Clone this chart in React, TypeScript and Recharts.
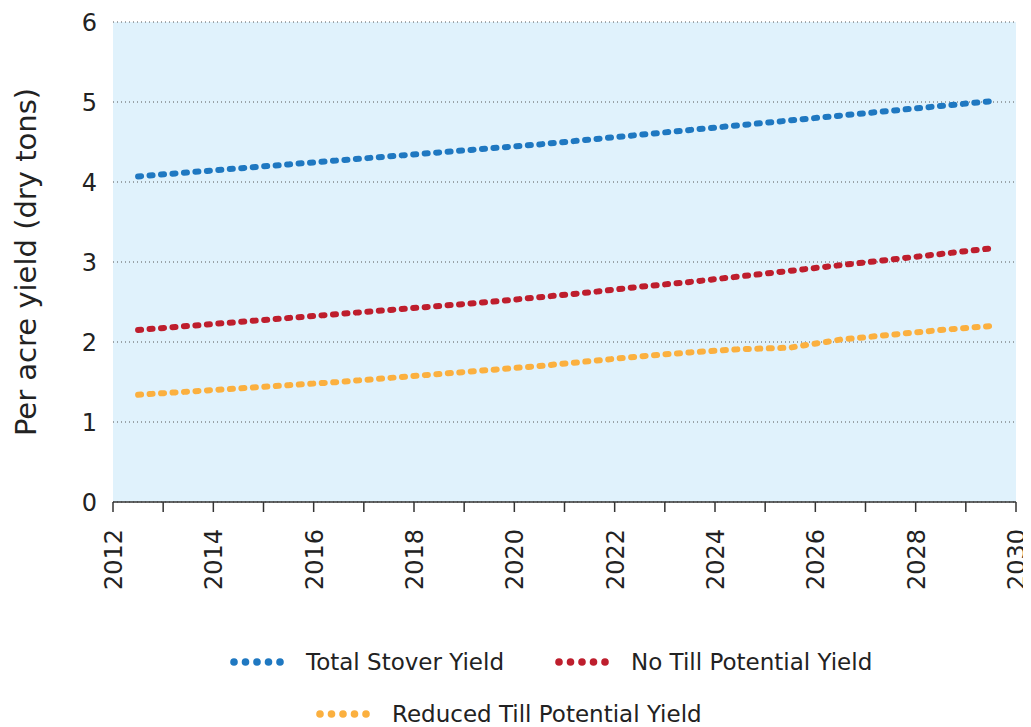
import React from "react";
import {
	LineChart,
	Line,
	XAxis,
	YAxis,
	CartesianGrid,
	Legend,
} from "recharts";

// mid-year points
const years = [
	2012.5, 2013.5, 2014.5, 2015.5, 2016.5, 2017.5, 2018.5, 2019.5, 2020.5,
	2021.5, 2022.5, 2023.5, 2024.5, 2025.5, 2026.5, 2027.5, 2028.5, 2029.5,
];
const totalStover = [
	4.07, 4.12, 4.17, 4.22, 4.27, 4.32, 4.37, 4.42, 4.47, 4.53, 4.59, 4.65,
	4.71, 4.77, 4.83, 4.89, 4.95, 5.01,
];
const noTill = [
	2.15, 2.2, 2.25, 2.3, 2.35, 2.4, 2.45, 2.5, 2.56, 2.62, 2.69, 2.75, 2.82,
	2.89, 2.96, 3.03, 3.1, 3.17,
];
const reducedTill = [
	1.34, 1.38, 1.42, 1.46, 1.5, 1.55, 1.6, 1.65, 1.7, 1.76, 1.82, 1.87, 1.91,
	1.93, 2.03, 2.09, 2.15, 2.2,
];
const xTicks = [
	2012, 2013, 2014, 2015, 2016, 2017, 2018, 2019, 2020, 2021, 2022, 2023,
	2024, 2025, 2026, 2027, 2028, 2029, 2030,
];
const yTicks = [0, 1, 2, 3, 4, 5, 6];

const series = [
	{ key: "total", name: "Total Stover Yield", color: "#1f78c1" },
	{ key: "noTill", name: "No Till Potential Yield", color: "#be1e2d" },
	{ key: "reduced", name: "Reduced Till Potential Yield", color: "#fbb03f" },
];

const data = years.map((y, i) => ({
	year: y,
	total: totalStover[i],
	noTill: noTill[i],
	reduced: reducedTill[i],
}));

const FONT = "'DejaVu Sans', sans-serif";

const YearTick = (props: any) => {
	const { x, y, payload } = props;
	if (payload.value % 2 !== 0) return null;
	return (
		<text
			x={x + 9}
			y={y + 15}
			transform={`rotate(-90, ${x + 9}, ${y + 15})`}
			textAnchor="end"
			fontSize={24}
			fontFamily={FONT}
			fill="#222">
			{payload.value}
		</text>
	);
};

const Dots = ({ color }: { color: string }) => (
	<svg width={56} height={10} style={{ marginRight: 20 }}>
		{[0, 1, 2, 3, 4].map((i) => (
			<circle key={i} cx={4 + i * 11.5} cy={5} r={3.8} fill={color} />
		))}
	</svg>
);

const Item = ({ s, style }: { s: any; style?: any }) => (
	<div style={{ display: "flex", alignItems: "center", ...style }}>
		<Dots color={s.color} />
		<span>{s.name}</span>
	</div>
);

const ChartLegend = () => (
	<div
		style={{
			position: "relative",
			height: 95,
			width: 1023,
			fontFamily: FONT,
			fontSize: 23,
			color: "#222",
		}}>
		<Item s={series[0]} style={{ position: "absolute", left: 222, top: 17 }} />
		<Item s={series[1]} style={{ position: "absolute", left: 547, top: 17 }} />
		<Item s={series[2]} style={{ position: "absolute", left: 308, top: 69 }} />
	</div>
);

export default function App() {
	return (
		<LineChart
			width={1023}
			height={719}
			data={data}
			style={{ overflow: "visible" }}
			margin={{ top: 14, right: 15, left: 0, bottom: 0 }}>
			<CartesianGrid
				vertical={false}
				stroke="#555"
				strokeDasharray="1 3"
				fill="#e0f2fc"
			/>
			<XAxis
				dataKey="year"
				type="number"
				domain={[2012, 2030]}
				ticks={xTicks}
				interval={0}
				height={130}
				tick={<YearTick />}
				tickSize={10}
				tickLine={{ stroke: "#333", strokeWidth: 1.5 }}
				axisLine={{ stroke: "#333", strokeWidth: 1.5 }}
			/>
			<YAxis
				domain={[0, 6]}
				ticks={yTicks}
				width={105}
				axisLine={false}
				tickLine={false}
				tickMargin={10}
				tick={{ fontSize: 24, fontFamily: FONT, fill: "#222" }}
				label={{
					value: "Per acre yield (dry tons)",
					angle: -90,
					position: "insideLeft",
					offset: 18,
					style: {
						textAnchor: "middle",
						fontSize: 29,
						fontFamily: FONT,
						fill: "#222",
					},
				}}
			/>
			<Legend verticalAlign="bottom" content={<ChartLegend />} />
			{series.map((s) => (
				<Line
					key={s.key}
					type="linear"
					dataKey={s.key}
					name={s.name}
					stroke={s.color}
					strokeWidth={6}
					strokeLinecap="round"
					strokeDasharray="3 8.5"
					dot={false}
					activeDot={false}
					isAnimationActive={false}
				/>
			))}
		</LineChart>
	);
}
